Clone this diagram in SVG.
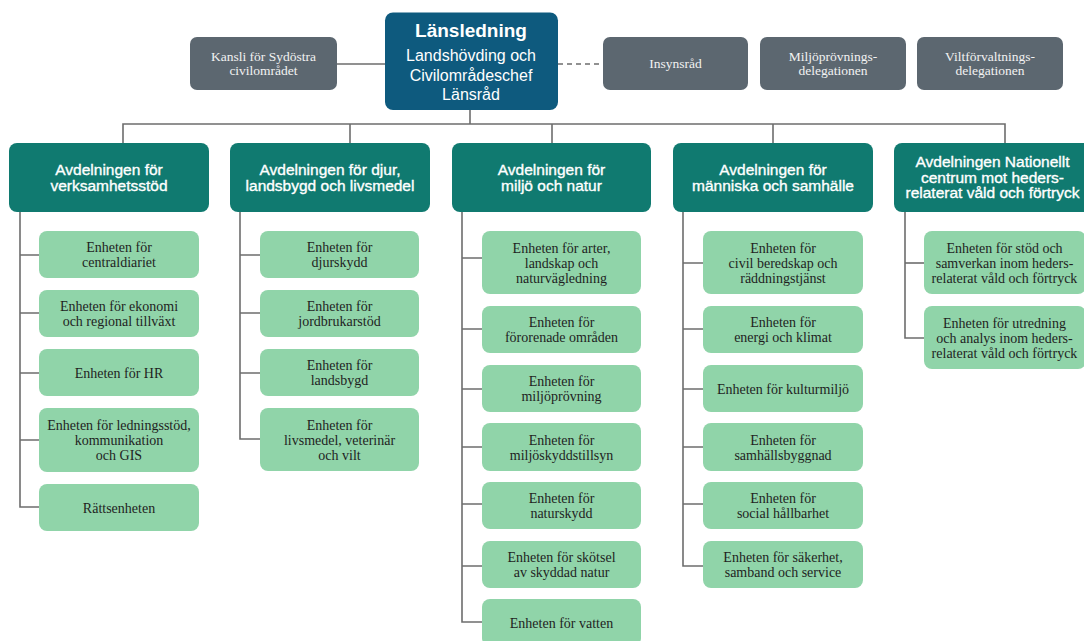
<svg xmlns="http://www.w3.org/2000/svg" width="1084" height="641" viewBox="0 0 1084 641">
<style>
.bg{fill:#ffffff}
.lead{fill:#0e5a7e}
.gray{fill:#5c6770}
.dept{fill:#107a70}
.unit{fill:#90d4a9}
.ln{fill:none;stroke:#6d6d6d;stroke-width:1.6}
.dash{stroke-dasharray:5 4}
.tl{font-family:"Liberation Sans",Arial,sans-serif;fill:#ffffff;text-anchor:middle}
.tlb{font-size:19px;font-weight:bold}
.tls{font-size:16px}
.tg{font-family:"Liberation Serif","Times New Roman",serif;font-size:13.5px;fill:#f2f2f2;text-anchor:middle}
.td{font-family:"Liberation Sans",Arial,sans-serif;font-size:15.5px;fill:#ffffff;stroke:#ffffff;stroke-width:0.35;text-anchor:middle}
.tu{font-family:"Liberation Serif","Times New Roman",serif;font-size:14px;fill:#1f1f1f;text-anchor:middle}
</style>
<rect class="bg" x="0" y="0" width="1084" height="641"/>

<g id="connectors">
  <path class="ln" d="M337 64 H385"/>
  <path class="ln dash" d="M558 64 H603"/>
  <path class="ln" d="M470 110 V124"/>
  <path class="ln" d="M123 143 V124 H1005 V143"/>
  <path class="ln" d="M350 124 V143"/>
  <path class="ln" d="M552 124 V143"/>
  <path class="ln" d="M773 124 V143"/>
  <!-- col 1 -->
  <path class="ln" d="M20 212 V507 H39"/>
  <path class="ln" d="M20 255 H39 M20 313 H39 M20 373 H39 M20 440 H39"/>
  <!-- col 2 -->
  <path class="ln" d="M240 212 V439 H260"/>
  <path class="ln" d="M240 255 H260 M240 313 H260 M240 373 H260"/>
  <!-- col 3 -->
  <path class="ln" d="M462 212 V622 H482"/>
  <path class="ln" d="M462 258 H482 M462 329 H482 M462 389 H482 M462 447 H482 M462 504 H482 M462 566 H482"/>
  <!-- col 4 -->
  <path class="ln" d="M683 212 V566 H703"/>
  <path class="ln" d="M683 263 H703 M683 329 H703 M683 389 H703 M683 447 H703 M683 504 H703"/>
  <!-- col 5 -->
  <path class="ln" d="M905 212 V338 H924"/>
  <path class="ln" d="M905 263 H924"/>
</g>

<g id="lansledning">
  <rect class="lead" x="385" y="12.5" width="173" height="97.5" rx="8"/>
  <text class="tl tlb" x="471" y="37">Länsledning</text>
  <text class="tl tls" x="471" y="61">Landshövding och</text>
  <text class="tl tls" x="471" y="81">Civilområdeschef</text>
  <text class="tl tls" x="471" y="100">Länsråd</text>
</g>

<g id="kansli">
  <rect class="gray" x="190" y="37" width="147" height="53" rx="7"/>
  <text class="tg" x="263.5" y="61">Kansli för Sydöstra</text>
  <text class="tg" x="263.5" y="75">civilområdet</text>
</g>
<g id="insynsrad">
  <rect class="gray" x="603" y="37" width="145" height="53" rx="7"/>
  <text class="tg" x="675.5" y="68">Insynsråd</text>
</g>
<g id="miljoprovningsdelegationen">
  <rect class="gray" x="760" y="37" width="146" height="53" rx="7"/>
  <text class="tg" x="833" y="61">Miljöprövnings-</text>
  <text class="tg" x="833" y="75">delegationen</text>
</g>
<g id="viltforvaltningsdelegationen">
  <rect class="gray" x="917" y="37" width="146" height="53" rx="7"/>
  <text class="tg" x="990" y="61">Viltförvaltnings-</text>
  <text class="tg" x="990" y="75">delegationen</text>
</g>

<g id="dept-verksamhetsstod">
  <rect class="dept" x="9" y="143" width="200" height="69" rx="8"/>
  <text class="td" x="109" y="175">Avdelningen för</text>
  <text class="td" x="109" y="191">verksamhetsstöd</text>
</g>
<g id="dept-djur">
  <rect class="dept" x="230" y="143" width="200" height="69" rx="8"/>
  <text class="td" x="330" y="175">Avdelningen för djur,</text>
  <text class="td" x="330" y="191">landsbygd och livsmedel</text>
</g>
<g id="dept-miljo">
  <rect class="dept" x="452" y="143" width="199" height="69" rx="8"/>
  <text class="td" x="551.5" y="175">Avdelningen för</text>
  <text class="td" x="551.5" y="191">miljö och natur</text>
</g>
<g id="dept-manniska">
  <rect class="dept" x="673" y="143" width="200" height="69" rx="8"/>
  <text class="td" x="773" y="175">Avdelningen för</text>
  <text class="td" x="773" y="191">människa och samhälle</text>
</g>
<g id="dept-nationellt">
  <rect class="dept" x="894" y="143" width="200" height="69" rx="8"/>
  <text class="td" x="992.5" y="167">Avdelningen Nationellt</text>
  <text class="td" x="992.5" y="182.5">centrum mot heders-</text>
  <text class="td" x="992.5" y="198">relaterat våld och förtryck</text>
</g>

<!-- column 1 units -->
<g id="u-centraldiariet">
  <rect class="unit" x="39" y="231" width="160" height="47" rx="8"/>
  <text class="tu" x="119" y="252">Enheten för</text>
  <text class="tu" x="119" y="267">centraldiariet</text>
</g>
<g id="u-ekonomi">
  <rect class="unit" x="39" y="290" width="160" height="47" rx="8"/>
  <text class="tu" x="119" y="311">Enheten för ekonomi</text>
  <text class="tu" x="119" y="326">och regional tillväxt</text>
</g>
<g id="u-hr">
  <rect class="unit" x="39" y="349" width="160" height="47" rx="8"/>
  <text class="tu" x="119" y="377.5">Enheten för HR</text>
</g>
<g id="u-ledningsstod">
  <rect class="unit" x="39" y="408" width="160" height="64" rx="8"/>
  <text class="tu" x="119" y="430">Enheten för ledningsstöd,</text>
  <text class="tu" x="119" y="445">kommunikation</text>
  <text class="tu" x="119" y="460">och GIS</text>
</g>
<g id="u-rattsenheten">
  <rect class="unit" x="39" y="484" width="160" height="47" rx="8"/>
  <text class="tu" x="119" y="512.5">Rättsenheten</text>
</g>

<!-- column 2 units -->
<g id="u-djurskydd">
  <rect class="unit" x="260" y="231" width="159" height="47" rx="8"/>
  <text class="tu" x="339.5" y="252">Enheten för</text>
  <text class="tu" x="339.5" y="267">djurskydd</text>
</g>
<g id="u-jordbrukarstod">
  <rect class="unit" x="260" y="290" width="159" height="47" rx="8"/>
  <text class="tu" x="339.5" y="311">Enheten för</text>
  <text class="tu" x="339.5" y="326">jordbrukarstöd</text>
</g>
<g id="u-landsbygd">
  <rect class="unit" x="260" y="349" width="159" height="47" rx="8"/>
  <text class="tu" x="339.5" y="370">Enheten för</text>
  <text class="tu" x="339.5" y="385">landsbygd</text>
</g>
<g id="u-livsmedel">
  <rect class="unit" x="260" y="408" width="159" height="63" rx="8"/>
  <text class="tu" x="339.5" y="429.5">Enheten för</text>
  <text class="tu" x="339.5" y="444.5">livsmedel, veterinär</text>
  <text class="tu" x="339.5" y="459.5">och vilt</text>
</g>

<!-- column 3 units -->
<g id="u-arter">
  <rect class="unit" x="482" y="231" width="159" height="63" rx="8"/>
  <text class="tu" x="561.5" y="252.5">Enheten för arter,</text>
  <text class="tu" x="561.5" y="267.5">landskap och</text>
  <text class="tu" x="561.5" y="282.5">naturvägledning</text>
</g>
<g id="u-fororenade">
  <rect class="unit" x="482" y="306" width="159" height="47" rx="8"/>
  <text class="tu" x="561.5" y="327">Enheten för</text>
  <text class="tu" x="561.5" y="342">förorenade områden</text>
</g>
<g id="u-miljoprovning">
  <rect class="unit" x="482" y="365" width="159" height="47" rx="8"/>
  <text class="tu" x="561.5" y="386">Enheten för</text>
  <text class="tu" x="561.5" y="401">miljöprövning</text>
</g>
<g id="u-miljoskyddstillsyn">
  <rect class="unit" x="482" y="423" width="159" height="48" rx="8"/>
  <text class="tu" x="561.5" y="444.5">Enheten för</text>
  <text class="tu" x="561.5" y="459.5">miljöskyddstillsyn</text>
</g>
<g id="u-naturskydd">
  <rect class="unit" x="482" y="482" width="159" height="47" rx="8"/>
  <text class="tu" x="561.5" y="503">Enheten för</text>
  <text class="tu" x="561.5" y="518">naturskydd</text>
</g>
<g id="u-skotsel">
  <rect class="unit" x="482" y="541" width="159" height="47" rx="8"/>
  <text class="tu" x="561.5" y="562">Enheten för skötsel</text>
  <text class="tu" x="561.5" y="577">av skyddad natur</text>
</g>
<g id="u-vatten">
  <rect class="unit" x="482" y="599" width="159" height="47" rx="8"/>
  <text class="tu" x="561.5" y="627.5">Enheten för vatten</text>
</g>

<!-- column 4 units -->
<g id="u-civil">
  <rect class="unit" x="703" y="231" width="160" height="63" rx="8"/>
  <text class="tu" x="783" y="252.5">Enheten för</text>
  <text class="tu" x="783" y="267.5">civil beredskap och</text>
  <text class="tu" x="783" y="282.5">räddningstjänst</text>
</g>
<g id="u-energi">
  <rect class="unit" x="703" y="306" width="160" height="47" rx="8"/>
  <text class="tu" x="783" y="327">Enheten för</text>
  <text class="tu" x="783" y="342">energi och klimat</text>
</g>
<g id="u-kulturmiljo">
  <rect class="unit" x="703" y="365" width="160" height="47" rx="8"/>
  <text class="tu" x="783" y="393.5">Enheten för kulturmiljö</text>
</g>
<g id="u-samhallsbyggnad">
  <rect class="unit" x="703" y="423" width="160" height="48" rx="8"/>
  <text class="tu" x="783" y="444.5">Enheten för</text>
  <text class="tu" x="783" y="459.5">samhällsbyggnad</text>
</g>
<g id="u-social">
  <rect class="unit" x="703" y="482" width="160" height="47" rx="8"/>
  <text class="tu" x="783" y="503">Enheten för</text>
  <text class="tu" x="783" y="518">social hållbarhet</text>
</g>
<g id="u-sakerhet">
  <rect class="unit" x="703" y="541" width="160" height="47" rx="8"/>
  <text class="tu" x="783" y="562">Enheten för säkerhet,</text>
  <text class="tu" x="783" y="577">samband och service</text>
</g>

<!-- column 5 units -->
<g id="u-stod">
  <rect class="unit" x="924" y="231" width="162" height="63" rx="8"/>
  <text class="tu" x="1004.5" y="252.5">Enheten för stöd och</text>
  <text class="tu" x="1004.5" y="267.5">samverkan inom heders-</text>
  <text class="tu" x="1004.5" y="282.5">relaterat våld och förtryck</text>
</g>
<g id="u-utredning">
  <rect class="unit" x="924" y="306" width="162" height="63" rx="8"/>
  <text class="tu" x="1004.5" y="327.5">Enheten för utredning</text>
  <text class="tu" x="1004.5" y="342.5">och analys inom heders-</text>
  <text class="tu" x="1004.5" y="357.5">relaterat våld och förtryck</text>
</g>
</svg>
